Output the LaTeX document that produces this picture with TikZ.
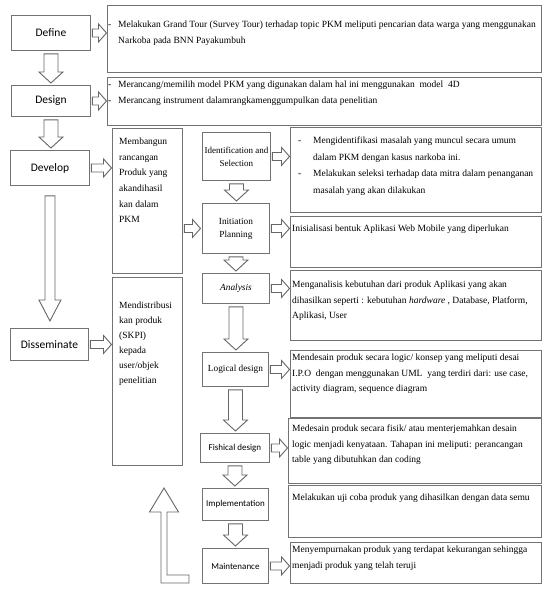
\documentclass[tikz,border=0pt]{standalone}
\usepackage{fontspec}
\setmainfont{Liberation Serif}
\newfontfamily\calfont{Carlito}
\usetikzlibrary{calc}
\tikzset{
  box/.style={draw=black!55, line width=0.9pt, fill=white, inner sep=0pt, anchor=north west},
  phase/.style={box, font=\calfont\fontsize{11.5}{13}\selectfont},
  stepserif/.style={box, align=center, font=\fontsize{9.3}{13}\selectfont},
  stepsans/.style={box, align=center, font=\calfont\fontsize{9}{11}\selectfont},
  blk/.style={draw=black!60, line width=0.9pt, fill=white, line join=miter},
  txt/.style={anchor=north west, inner sep=0pt, align=left, font=\fontsize{9.5}{15.5}\selectfont},
}
\newcommand{\barrow}[5]{%
  \coordinate (ba) at #1;
  \coordinate (bb) at #2;
  \coordinate (bh) at ($(bb)!#5pt!(ba)$);
  \draw[blk] ($(ba)!#3pt!90:(bb)$) -- ($(bh)!#3pt!90:(bb)$) -- ($(bh)!#4pt!90:(bb)$) -- (bb)
    -- ($(bh)!#4pt!-90:(bb)$) -- ($(bh)!#3pt!-90:(bb)$) -- ($(ba)!#3pt!-90:(bb)$) -- cycle;}
\newcommand{\rarr}[2]{\barrow{($(#1.east)+(1.5,0)$)}{($(#1.east -| #2.west)+(-0.5,0)$)}{4}{9}{8}}
\newcommand{\darr}[2]{\barrow{($(#1.south)+(0,3)$)}{($(#2.north -| #1.south)+(0,-2)$)}{7}{12}{11}}
\newcommand{\hy}[1]{\makebox[#1][l]{-}}
\begin{document}
\begin{tikzpicture}[x=1pt,y=-1pt]
\useasboundingbox (0,0) rectangle (542,592);
\fill[white] (0,0) rectangle (542,592);

% phases
\node[phase, minimum width=79, minimum height=35] (define) at (11,15) {Define};
\node[phase, minimum width=79, minimum height=31] (design) at (11,85) {Design};
\node[phase, minimum width=79, minimum height=35] (develop) at (10,150) {Develop};
\node[phase, minimum width=78, minimum height=32] (dissem) at (10,328) {Disseminate};

% description boxes, top
\node[box, minimum width=434, minimum height=67] (d1) at (107,5) {};
\node[txt] (d1t) at (108,21) {\hy{10pt}Melakukan Grand Tour (Survey Tour) terhadap topic PKM meliputi pencarian data warga yang menggunakan\\\hspace*{10pt}Narkoba pada BNN Payakumbuh};
\node[box, minimum width=434, minimum height=48] (d2) at (107,77) {};
\node[txt] (d2t) at (108,81) {\hy{10pt}Merancang/memilih model PKM yang digunakan dalam hal ini menggunakan\ \ model\ \ 4D\\\hy{10pt}Merancang instrument dalamrangkamenggumpulkan data penelitian};

% middle column
\node[box, minimum width=70, minimum height=145] (mb) at (112,128) {};
\node[txt, font=\fontsize{9.5}{15.6}\selectfont] (mbt) at (119,138) {Membangun\\rancangan\\Produk yang\\akandihasil\\kan dalam\\PKM};
\node[box, minimum width=70, minimum height=188] (md) at (112,277) {};
\node[txt, font=\fontsize{9.5}{15}\selectfont] (mdt) at (119,302) {Mendistribusi\\kan produk\\(SKPI)\\kepada\\user/objek\\penelitian};

% step column
\node[stepserif, minimum width=68, minimum height=48, font=\fontsize{9}{13}\selectfont] (ident) at (202,132) {Identification and\\Selection};
\node[stepserif, minimum width=67, minimum height=50] (init) at (202,203) {Initiation\\Planning};
\node[stepserif, minimum width=67, minimum height=30] (anal) at (202,273) {\textit{Analysis}};
\node[stepserif, minimum width=66, minimum height=34] (logic) at (202,352) {Logical design};
\node[stepsans, minimum width=69, minimum height=29] (fish) at (200,433) {Fishical design};
\node[stepsans, minimum width=66, minimum height=32] (impl) at (202,488) {Implementation};
\node[stepsans, minimum width=66, minimum height=35] (maint) at (202,548) {Maintenance};

% right description boxes
\node[box, minimum width=251, minimum height=85] (d3) at (290,127) {};
\node[txt, font=\fontsize{9.5}{16.5}\selectfont] (d3t) at (298,137) {\hy{15pt}Mengidentifikasi masalah yang muncul secara umum\\\hspace*{15pt}dalam PKM dengan kasus narkoba ini.\\\hy{15pt}Melakukan seleksi terhadap data mitra dalam penanganan\\\hspace*{15pt}masalah yang akan dilakukan};
\node[box, minimum width=251, minimum height=51] (d4) at (290,216) {};
\node[txt] (d4t) at (292,225) {Inisialisasi bentuk Aplikasi Web Mobile yang diperlukan};
\node[box, minimum width=251, minimum height=70] (d5) at (290,270) {};
\node[txt] (d5t) at (292,281) {Menganalisis kebutuhan dari produk Aplikasi yang akan\\dihasilkan seperti : kebutuhan \textit{hardware} , Database, Platform,\\Aplikasi, User};
\node[box, minimum width=251, minimum height=67] (d6) at (290,350) {};
\node[txt] (d6t) at (292,354) {Mendesain produk secara logic/ konsep yang meliputi desai\\I.P.O\ \ dengan menggunakan UML\ \ yang terdiri dari: use case,\\activity diagram, sequence diagram};
\node[box, minimum width=253, minimum height=65] (d7) at (288,418) {};
\node[txt] (d7t) at (292,425) {Medesain produk secara fisik/ atau menterjemahkan desain\\logic menjadi kenyataan. Tahapan ini meliputi: perancangan\\table yang dibutuhkan dan coding};
\node[box, minimum width=253, minimum height=52] (d8) at (288,485) {};
\node[txt] (d8t) at (292,494) {Melakukan uji coba produk yang dihasilkan dengan data semu};
\node[box, minimum width=251, minimum height=41] (d9) at (290,542) {};
\node[txt] (d9t) at (292,546) {Menyempurnakan produk yang terdapat kekurangan sehingga\\menjadi produk yang telah teruji};

% right arrows
\rarr{define}{d1}
\rarr{design}{d2}
\rarr{develop}{mb}
\rarr{dissem}{md}
\barrow{($(mb.east|-init.west)+(1.5,0)$)}{($(init.west)+(-1.5,0)$)}{4}{9}{8}
\rarr{ident}{d3}
\rarr{init}{d4}
\rarr{anal}{d5}
\rarr{logic}{d6}
\rarr{fish}{d7}
\rarr{maint}{d9}

% down arrows
\darr{define}{design}
\darr{design}{develop}
\barrow{($(develop.south)+(0,10)$)}{($(dissem.north -| develop.south)+(0,-7)$)}{5}{11}{21}
\darr{ident}{init}
\darr{init}{anal}
\darr{anal}{logic}
\darr{logic}{fish}
\darr{fish}{impl}
\darr{impl}{maint}

% feedback arrow
\coordinate (fbtail) at (189,579);
\coordinate (fbtip) at (164,488);
\draw[blk] ($(fbtail)+(0,-4)$) -| ($(fbtip)+(3,24)$) -- ($(fbtip)+(14.5,24)$) -- (fbtip)
  -- ($(fbtip)+(-14.5,24)$) -- ($(fbtip)+(-3,24)$) |- ($(fbtail)+(0,4)$) -- cycle;
\end{tikzpicture}
\end{document}
